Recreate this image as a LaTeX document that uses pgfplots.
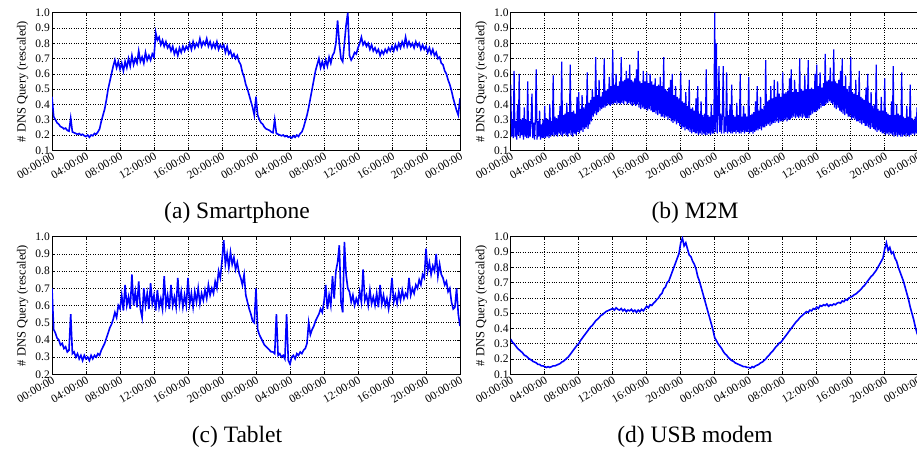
\documentclass[border=0pt]{standalone}
\usepackage{pgfplots}
\pgfplotsset{compat=1.18}
\usepackage{fontspec}
\setmainfont{Liberation Serif}
\definecolor{lineblue}{RGB}{0,0,255}
\pgfplotsset{panel/.style={
  scale only axis, width=408pt, height=137.6pt,
  anchor=south west,
  xmin=0, xmax=48, ymax=1.0,
  xtick={0,4,8,12,16,20,24,28,32,36,40,44,48},
  xticklabels={00:00:00,04:00:00,08:00:00,12:00:00,16:00:00,20:00:00,00:00:00,04:00:00,08:00:00,12:00:00,16:00:00,20:00:00,00:00:00},
  x tick label style={rotate=30, anchor=north east, inner sep=1pt},
  y tick label style={/pgf/number format/.cd, fixed, fixed zerofill, precision=1, /tikz/.cd, inner xsep=2pt},
  /pgf/number format/assume math mode=true,
  ticklabel style={font=\fontsize{11.5}{12}\selectfont},
  ylabel={\# DNS Query (rescaled)},
  ylabel style={font=\fontsize{12.5}{13}\selectfont, at={(axis description cs:-0.072,0.5)}, anchor=center},
  grid=major, grid style={black, dotted, line width=0.6pt},
  axis line style={black, line width=0.8pt},
  tick style={black, line width=0.6pt},
  major tick length=3pt,
}}
\begin{document}
\begin{tikzpicture}
\path[use as bounding box] (0,0) rectangle (917pt,449pt);
% (a) Smartphone
\begin{axis}[panel, at={(52pt,298.7pt)}, ymin=0.1, ytick={0.1,0.2,0.3,0.4,0.5,0.6,0.7,0.8,0.9,1.0}]
\addplot[lineblue, line width=1.6pt] table[row sep=\\, header=false, x expr=\coordindex/5, y index=0] {
0.45\\0.32\\0.30\\0.28\\0.27\\
0.255\\0.25\\0.24\\0.245\\0.23\\
0.225\\0.31\\0.22\\0.215\\0.21\\
0.205\\0.21\\0.20\\0.205\\0.195\\
0.19\\0.20\\0.185\\0.20\\0.195\\
0.21\\0.205\\0.22\\0.24\\0.29\\
0.33\\0.37\\0.43\\0.50\\0.55\\
0.60\\0.65\\0.69\\0.64\\0.68\\
0.63\\0.67\\0.62\\0.68\\0.64\\
0.70\\0.65\\0.72\\0.66\\0.70\\
0.67\\0.75\\0.68\\0.71\\0.67\\
0.74\\0.69\\0.72\\0.69\\0.73\\
0.71\\0.87\\0.82\\0.84\\0.79\\
0.82\\0.78\\0.81\\0.77\\0.79\\
0.75\\0.78\\0.73\\0.76\\0.72\\
0.77\\0.74\\0.78\\0.75\\0.78\\
0.76\\0.80\\0.76\\0.81\\0.77\\
0.80\\0.78\\0.83\\0.78\\0.81\\
0.79\\0.83\\0.78\\0.81\\0.77\\
0.80\\0.77\\0.81\\0.76\\0.79\\
0.77\\0.79\\0.74\\0.78\\0.73\\
0.75\\0.71\\0.73\\0.70\\0.72\\
0.68\\0.66\\0.61\\0.58\\0.53\\
0.50\\0.46\\0.42\\0.38\\0.33\\
0.45\\0.33\\0.30\\0.28\\0.27\\
0.25\\0.24\\0.235\\0.23\\0.22\\
0.215\\0.30\\0.21\\0.205\\0.20\\
0.195\\0.20\\0.19\\0.195\\0.185\\
0.19\\0.18\\0.195\\0.185\\0.20\\
0.19\\0.21\\0.22\\0.25\\0.29\\
0.33\\0.38\\0.44\\0.50\\0.56\\
0.62\\0.66\\0.70\\0.64\\0.68\\
0.64\\0.69\\0.65\\0.71\\0.67\\
0.72\\0.74\\0.80\\0.95\\0.80\\
0.70\\0.68\\0.80\\0.92\\1.00\\
0.72\\0.69\\0.71\\0.74\\0.73\\
0.77\\0.80\\0.84\\0.79\\0.81\\
0.78\\0.80\\0.76\\0.79\\0.75\\
0.77\\0.74\\0.76\\0.72\\0.75\\
0.73\\0.76\\0.74\\0.77\\0.75\\
0.78\\0.75\\0.79\\0.76\\0.80\\
0.77\\0.81\\0.78\\0.84\\0.78\\
0.81\\0.78\\0.80\\0.77\\0.81\\
0.78\\0.80\\0.76\\0.79\\0.76\\
0.78\\0.74\\0.77\\0.73\\0.76\\
0.72\\0.74\\0.70\\0.71\\0.67\\
0.66\\0.62\\0.60\\0.56\\0.53\\
0.49\\0.44\\0.40\\0.36\\0.33\\
0.44\\
};
\end{axis}
% (b) M2M
\begin{axis}[panel, at={(510.7pt,298.7pt)}, ymin=0.1, ytick={0.1,0.2,0.3,0.4,0.5,0.6,0.7,0.8,0.9,1.0}]
\addplot[lineblue, line width=1.2pt] table[row sep=\\, header=false, x expr=\coordindex/10, y index=0] {
0.53\\0.19\\0.30\\0.18\\0.62\\0.19\\0.29\\0.17\\0.40\\0.20\\
0.60\\0.18\\0.30\\0.20\\0.31\\0.17\\0.38\\0.19\\0.30\\0.18\\
0.55\\0.18\\0.29\\0.19\\0.30\\0.47\\0.18\\0.28\\0.17\\0.30\\
0.63\\0.17\\0.29\\0.19\\0.36\\0.17\\0.27\\0.18\\0.30\\0.18\\
0.39\\0.18\\0.31\\0.19\\0.30\\0.18\\0.40\\0.19\\0.29\\0.20\\
0.59\\0.19\\0.32\\0.20\\0.31\\0.19\\0.33\\0.21\\0.39\\0.20\\
0.68\\0.19\\0.33\\0.21\\0.34\\0.20\\0.41\\0.19\\0.35\\0.21\\
0.66\\0.20\\0.35\\0.19\\0.36\\0.21\\0.34\\0.20\\0.45\\0.22\\
0.48\\0.21\\0.37\\0.23\\0.46\\0.22\\0.38\\0.24\\0.40\\0.25\\
0.61\\0.24\\0.41\\0.27\\0.43\\0.29\\0.50\\0.32\\0.45\\0.34\\
0.71\\0.33\\0.46\\0.35\\0.56\\0.36\\0.45\\0.37\\0.48\\0.38\\
0.70\\0.38\\0.49\\0.39\\0.50\\0.40\\0.58\\0.39\\0.52\\0.40\\
0.755\\0.40\\0.53\\0.41\\0.60\\0.40\\0.52\\0.41\\0.55\\0.40\\
0.71\\0.41\\0.55\\0.40\\0.56\\0.42\\0.62\\0.40\\0.57\\0.41\\
0.66\\0.40\\0.56\\0.39\\0.55\\0.40\\0.57\\0.39\\0.63\\0.40\\
0.75\\0.38\\0.55\\0.37\\0.54\\0.38\\0.62\\0.37\\0.55\\0.37\\
0.61\\0.36\\0.54\\0.37\\0.60\\0.36\\0.55\\0.35\\0.53\\0.35\\
0.57\\0.34\\0.52\\0.33\\0.53\\0.34\\0.58\\0.32\\0.52\\0.32\\
0.71\\0.31\\0.50\\0.32\\0.49\\0.30\\0.51\\0.31\\0.56\\0.29\\
0.60\\0.28\\0.46\\0.29\\0.52\\0.27\\0.45\\0.28\\0.44\\0.26\\
0.61\\0.24\\0.42\\0.25\\0.41\\0.23\\0.48\\0.24\\0.39\\0.23\\
0.56\\0.22\\0.37\\0.21\\0.38\\0.22\\0.36\\0.21\\0.44\\0.21\\
0.52\\0.20\\0.34\\0.21\\0.42\\0.20\\0.33\\0.21\\0.34\\0.20\\
0.63\\0.20\\0.33\\0.21\\0.32\\0.20\\0.40\\0.21\\0.33\\0.21\\
1.00\\0.22\\0.80\\0.21\\0.33\\0.65\\0.22\\0.34\\0.21\\0.33\\
0.65\\0.21\\0.32\\0.22\\0.61\\0.21\\0.33\\0.22\\0.40\\0.21\\
0.53\\0.21\\0.33\\0.22\\0.32\\0.21\\0.41\\0.22\\0.33\\0.21\\
0.60\\0.21\\0.32\\0.22\\0.39\\0.21\\0.34\\0.22\\0.32\\0.22\\
0.58\\0.21\\0.33\\0.22\\0.34\\0.21\\0.35\\0.22\\0.42\\0.23\\
0.52\\0.23\\0.36\\0.24\\0.45\\0.23\\0.37\\0.25\\0.39\\0.25\\
0.69\\0.26\\0.42\\0.27\\0.43\\0.26\\0.52\\0.27\\0.44\\0.28\\
0.56\\0.28\\0.45\\0.29\\0.55\\0.28\\0.47\\0.29\\0.45\\0.29\\
0.61\\0.29\\0.47\\0.30\\0.48\\0.29\\0.49\\0.30\\0.57\\0.30\\
0.63\\0.31\\0.48\\0.32\\0.56\\0.31\\0.50\\0.32\\0.48\\0.31\\
0.70\\0.32\\0.50\\0.31\\0.49\\0.32\\0.59\\0.31\\0.50\\0.31\\
0.69\\0.31\\0.50\\0.33\\0.51\\0.34\\0.50\\0.35\\0.60\\0.35\\
0.66\\0.36\\0.52\\0.37\\0.61\\0.38\\0.51\\0.39\\0.54\\0.39\\
0.73\\0.40\\0.55\\0.41\\0.56\\0.42\\0.64\\0.41\\0.55\\0.40\\
0.76\\0.38\\0.55\\0.37\\0.54\\0.38\\0.56\\0.36\\0.62\\0.35\\
0.70\\0.34\\0.52\\0.33\\0.59\\0.34\\0.50\\0.32\\0.52\\0.32\\
0.71\\0.30\\0.48\\0.31\\0.47\\0.30\\0.56\\0.29\\0.46\\0.29\\
0.62\\0.28\\0.45\\0.27\\0.44\\0.28\\0.43\\0.26\\0.51\\0.26\\
0.60\\0.25\\0.41\\0.24\\0.48\\0.25\\0.39\\0.24\\0.40\\0.23\\
0.66\\0.22\\0.37\\0.23\\0.36\\0.22\\0.45\\0.21\\0.36\\0.21\\
0.57\\0.20\\0.35\\0.21\\0.34\\0.20\\0.33\\0.21\\0.42\\0.20\\
0.65\\0.19\\0.33\\0.20\\0.40\\0.19\\0.34\\0.20\\0.33\\0.19\\
0.61\\0.19\\0.32\\0.20\\0.31\\0.19\\0.39\\0.20\\0.32\\0.19\\
0.53\\0.20\\0.31\\0.21\\0.30\\0.20\\0.32\\0.21\\0.38\\0.22\\
0.45\\
};
\end{axis}
% (c) Tablet
\begin{axis}[panel, at={(52pt,74.7pt)}, ymin=0.2, ytick={0.2,0.3,0.4,0.5,0.6,0.7,0.8,0.9,1.0}]
\addplot[lineblue, line width=1.6pt] table[row sep=\\, header=false, x expr=\coordindex/5, y index=0] {
0.70\\0.46\\0.44\\0.41\\0.40\\
0.37\\0.38\\0.35\\0.36\\0.33\\
0.34\\0.55\\0.32\\0.33\\0.30\\
0.32\\0.29\\0.31\\0.28\\0.31\\
0.29\\0.30\\0.28\\0.31\\0.29\\
0.31\\0.30\\0.32\\0.31\\0.34\\
0.36\\0.38\\0.41\\0.44\\0.47\\
0.49\\0.52\\0.56\\0.53\\0.60\\
0.58\\0.66\\0.57\\0.72\\0.60\\
0.65\\0.58\\0.78\\0.60\\0.68\\
0.59\\0.74\\0.58\\0.53\\0.70\\
0.60\\0.67\\0.58\\0.73\\0.61\\
0.66\\0.57\\0.69\\0.59\\0.64\\
0.58\\0.77\\0.60\\0.66\\0.58\\
0.72\\0.60\\0.65\\0.59\\0.76\\
0.61\\0.68\\0.59\\0.66\\0.60\\
0.76\\0.61\\0.67\\0.59\\0.68\\
0.62\\0.70\\0.61\\0.67\\0.63\\
0.69\\0.64\\0.72\\0.66\\0.70\\
0.67\\0.74\\0.70\\0.80\\0.76\\
0.86\\0.98\\0.84\\0.90\\0.82\\
0.91\\0.84\\0.88\\0.81\\0.85\\
0.79\\0.76\\0.72\\0.78\\0.66\\
0.62\\0.58\\0.55\\0.51\\0.50\\
0.70\\0.46\\0.43\\0.41\\0.39\\
0.37\\0.36\\0.35\\0.34\\0.33\\
0.33\\0.32\\0.55\\0.31\\0.32\\
0.30\\0.31\\0.29\\0.55\\0.28\\
0.26\\0.30\\0.31\\0.29\\0.32\\
0.31\\0.33\\0.32\\0.34\\0.35\\
0.38\\0.50\\0.43\\0.46\\0.48\\
0.51\\0.53\\0.55\\0.58\\0.56\\
0.62\\0.72\\0.58\\0.66\\0.60\\
0.77\\0.64\\0.80\\0.85\\0.95\\
0.62\\0.56\\0.97\\0.78\\0.70\\
0.68\\0.62\\0.66\\0.60\\0.64\\
0.61\\0.68\\0.62\\0.81\\0.63\\
0.66\\0.60\\0.69\\0.61\\0.65\\
0.60\\0.67\\0.59\\0.72\\0.61\\
0.66\\0.60\\0.64\\0.58\\0.65\\
0.76\\0.62\\0.66\\0.61\\0.68\\
0.63\\0.69\\0.64\\0.67\\0.65\\
0.76\\0.66\\0.70\\0.67\\0.72\\
0.70\\0.75\\0.72\\0.78\\0.76\\
0.93\\0.80\\0.85\\0.78\\0.83\\
0.80\\0.90\\0.77\\0.84\\0.78\\
0.76\\0.72\\0.74\\0.68\\0.70\\
0.62\\0.58\\0.59\\0.70\\0.55\\
0.48\\
};
\end{axis}
% (d) USB modem
\begin{axis}[panel, at={(510.7pt,74.7pt)}, ymin=0.1, ytick={0.1,0.2,0.3,0.4,0.5,0.6,0.7,0.8,0.9,1.0}]
\addplot[lineblue, line width=1.6pt] table[row sep=\\, header=false, x expr=\coordindex/5, y index=0] {
0.33\\0.31\\0.30\\0.285\\0.27\\
0.26\\0.25\\0.24\\0.225\\0.22\\
0.21\\0.20\\0.195\\0.185\\0.18\\
0.175\\0.165\\0.165\\0.155\\0.155\\
0.15\\0.145\\0.15\\0.145\\0.15\\
0.155\\0.155\\0.16\\0.165\\0.17\\
0.18\\0.185\\0.195\\0.205\\0.215\\
0.23\\0.245\\0.26\\0.275\\0.29\\
0.30\\0.32\\0.335\\0.35\\0.365\\
0.38\\0.395\\0.41\\0.42\\0.435\\
0.45\\0.46\\0.47\\0.485\\0.49\\
0.50\\0.51\\0.515\\0.52\\0.525\\
0.53\\0.52\\0.535\\0.525\\0.52\\
0.53\\0.515\\0.525\\0.51\\0.52\\
0.515\\0.525\\0.51\\0.52\\0.505\\
0.52\\0.51\\0.525\\0.515\\0.53\\
0.545\\0.535\\0.555\\0.55\\0.565\\
0.575\\0.59\\0.60\\0.62\\0.63\\
0.66\\0.67\\0.70\\0.71\\0.74\\
0.77\\0.80\\0.83\\0.86\\0.89\\
0.96\\0.99\\0.94\\0.96\\0.92\\
0.88\\0.87\\0.84\\0.82\\0.79\\
0.74\\0.71\\0.67\\0.63\\0.59\\
0.55\\0.51\\0.47\\0.43\\0.39\\
0.34\\0.32\\0.30\\0.285\\0.27\\
0.25\\0.235\\0.225\\0.21\\0.20\\
0.19\\0.185\\0.175\\0.17\\0.165\\
0.16\\0.155\\0.15\\0.15\\0.145\\
0.145\\0.14\\0.15\\0.145\\0.155\\
0.16\\0.165\\0.175\\0.18\\0.19\\
0.20\\0.215\\0.225\\0.24\\0.25\\
0.265\\0.28\\0.29\\0.305\\0.31\\
0.325\\0.34\\0.355\\0.37\\0.385\\
0.40\\0.415\\0.43\\0.445\\0.455\\
0.47\\0.48\\0.49\\0.50\\0.51\\
0.505\\0.52\\0.515\\0.53\\0.525\\
0.54\\0.53\\0.55\\0.545\\0.555\\
0.55\\0.56\\0.545\\0.555\\0.55\\
0.56\\0.555\\0.565\\0.57\\0.565\\
0.58\\0.575\\0.59\\0.585\\0.60\\
0.605\\0.61\\0.62\\0.625\\0.635\\
0.645\\0.655\\0.67\\0.68\\0.695\\
0.71\\0.725\\0.74\\0.75\\0.765\\
0.78\\0.80\\0.82\\0.84\\0.86\\
0.92\\0.96\\0.91\\0.93\\0.89\\
0.90\\0.86\\0.84\\0.80\\0.77\\
0.74\\0.71\\0.67\\0.63\\0.59\\
0.54\\0.50\\0.46\\0.41\\0.37\\
0.34\\
};
\end{axis}
\node[font=\fontsize{23.5}{24}\selectfont] at (237pt,236pt) {(a) Smartphone};
\node[font=\fontsize{23.5}{24}\selectfont] at (695pt,236pt) {(b) M2M};
\node[font=\fontsize{23.5}{24}\selectfont] at (237pt,12pt) {(c) Tablet};
\node[font=\fontsize{23.5}{24}\selectfont] at (695pt,12pt) {(d) USB modem};
\end{tikzpicture}
\end{document}
